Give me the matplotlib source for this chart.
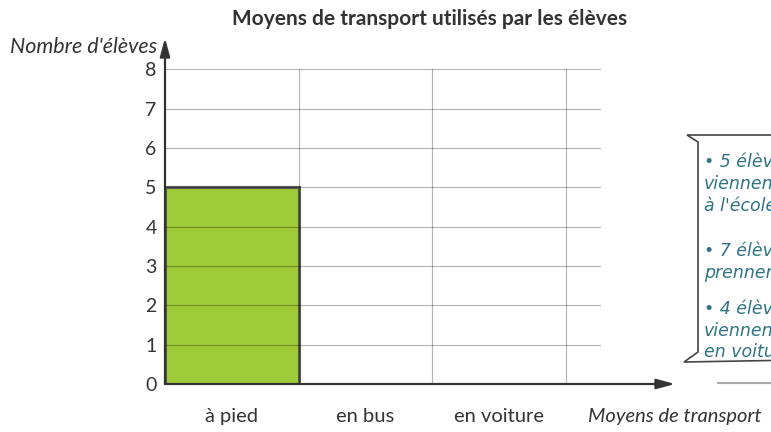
import matplotlib.pyplot as plt
from matplotlib.patches import Polygon
from matplotlib.lines import Line2D

# data
categories = ["à pied", "en bus", "en voiture"]
eleves = [5, None, None]  # seule la première colonne est remplie
y_ticks = [0, 1, 2, 3, 4, 5, 6, 7, 8]
notes = [
    "• 5 élèves\nviennent\nà l'école à pied",
    "• 7 élèves\nprennent le bus",
    "• 4 élèves\nviennent\nen voiture",
]

plt.rcParams["font.family"] = ["Lato", "DejaVu Sans"]
TXT = "#333333"

fig = plt.figure(figsize=(7.71, 4.32), dpi=100)
ax = fig.add_axes([165 / 771, 48 / 432, 534 / 771, 314.5 / 432])
ax.set_xlim(0, 4)
ax.set_ylim(0, 8)

grid_kw = dict(color="black", alpha=0.3, linewidth=0.8, zorder=3)

# barres
for i, v in enumerate(eleves):
    if v is not None:
        ax.bar(i + 0.5, v, width=1, color="#9ecb38", edgecolor="#5a5a5a",
               linewidth=2.2, zorder=2)

# quadrillage
for y in y_ticks[1:]:
    ax.plot([0, 3.26], [y, y], **grid_kw)
for x in range(1, len(categories) + 1):
    ax.plot([x, x], [0, 8], **grid_kw)

for s in ax.spines.values():
    s.set_visible(False)

# axes avec flèches
arrow = dict(arrowstyle="-|>,head_length=1.1,head_width=0.3",
             color=TXT, lw=1.6, shrinkA=0, shrinkB=0)
ax.annotate("", xy=(3.82, 0), xytext=(0, 0), annotation_clip=False, arrowprops=arrow)
ax.annotate("", xy=(0, 8.8), xytext=(0, 0), annotation_clip=False, arrowprops=arrow)

ax.set_yticks(y_ticks)
ax.set_yticklabels([str(t) for t in y_ticks], fontsize=14, color=TXT)
ax.tick_params(axis="y", length=0, pad=6)
ax.set_xticks([])
for i, c in enumerate(categories):
    ax.text(i + 0.5, -0.97, c, fontsize=14.5, color=TXT,
            ha="center", va="baseline", clip_on=False)

ax.text(3.82, -0.97, "Moyens de transport", fontsize=14.5, style="italic",
        color=TXT, ha="center", va="baseline", clip_on=False)
fig.text(157 / 771, 1 - 47 / 432, "Nombre d'élèves", fontsize=15.5,
         style="italic", color=TXT, ha="right", va="center")
fig.text(430 / 771, 1 - 19 / 432, "Moyens de transport utilisés par les élèves",
         fontsize=15, fontweight="bold", color=TXT, ha="center", va="center")

# bulle de notes
def fx(px):
    return px / 771


def fy(py):
    return 1 - py / 432


box = Polygon([(fx(687), fy(135)), (fx(800), fy(135)), (fx(800), fy(360)),
               (fx(684), fy(362)), (fx(698), fy(352)), (fx(698), fy(142))],
              closed=True, facecolor="white", edgecolor="#444444", lw=1.2,
              transform=fig.transFigure, zorder=1)
fig.patches.append(box)
fig.lines.append(Line2D([fx(718), fx(771)], [fy(383), fy(383)], color="#aaaaaa",
                        lw=1.5, transform=fig.transFigure))

note_top = [153, 242, 300]
for ny, txt in zip(note_top, notes):
    fig.text(fx(704), fy(ny), txt, fontsize=12.5, style="italic",
             family=["DejaVu Sans"], color="#2f7384", ha="left", va="top",
             linespacing=1.25)

fig.savefig("out.png", dpi=100)
